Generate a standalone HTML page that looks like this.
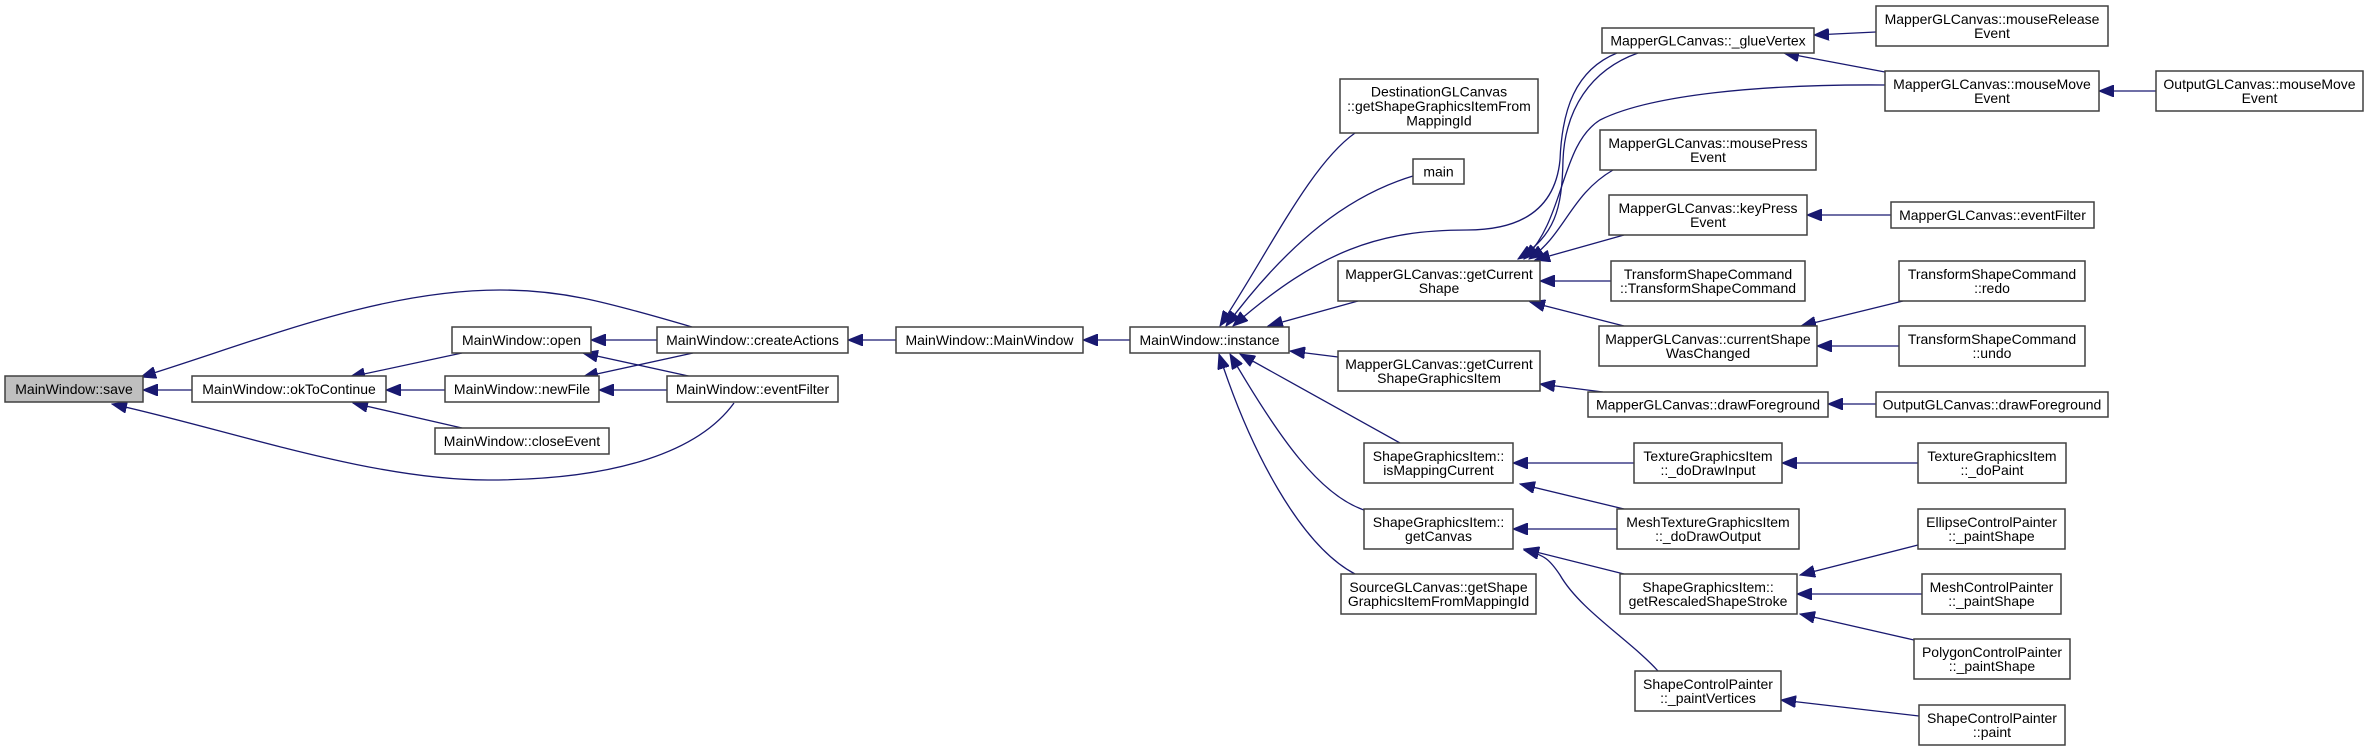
<!DOCTYPE html>
<html><head><meta charset="utf-8"><style>
html,body{margin:0;padding:0;background:#fff}
svg{display:block}
text{font-family:"Liberation Sans",Arial,sans-serif;font-size:14px;fill:#000;text-anchor:middle;dominant-baseline:central}
rect{fill:#fff;stroke:#404040;stroke-width:1.5}
path{fill:none;stroke:#191970;stroke-width:1.3}
</style></head><body>
<svg width="2368" height="751" viewBox="0 0 2368 751" xmlns="http://www.w3.org/2000/svg">
<defs>
<marker id="a" markerUnits="userSpaceOnUse" markerWidth="16" markerHeight="12" refX="15" refY="6" orient="auto">
<path d="M0,0 L15,6 L0,12 Z" style="fill:#191970;stroke:#191970;stroke-width:1"/>
</marker>
</defs>
<g marker-end="url(#a)">
<path d="M192,390 L143,390"/>
<path d="M692,327 C600,300 560,290 500,290 C380,290 260,340 141,377"/>
<path d="M734,403 C700,450 620,480 488,480 C370,480 230,430 112,404"/>
<path d="M462,353 L350,377"/>
<path d="M445,390 L386,390"/>
<path d="M462,428 L353,403"/>
<path d="M657,340 L591,340"/>
<path d="M693,377 L583,353"/>
<path d="M693,353 L583,377"/>
<path d="M667,390 L599,390"/>
<path d="M896,340 L848,340"/>
<path d="M1130,340 L1083,340"/>
<path d="M1355,133 C1310,165 1270,250 1220,326"/>
<path d="M1413,176 C1350,195 1290,240 1226,326"/>
<path d="M1617,53 C1575,70 1562,110 1560,160 C1555,210 1520,230 1467,230 C1380,230 1320,250 1233,326"/>
<path d="M1358,301 L1268,326"/>
<path d="M1338,357 L1290,351"/>
<path d="M1400,443 L1240,354"/>
<path d="M1364,510 C1320,495 1280,440 1230,354"/>
<path d="M1355,574 C1300,545 1250,450 1219,354"/>
<path d="M1638,53 C1590,70 1565,110 1563,160 C1562,210 1555,235 1518,259"/>
<path d="M1885,85 C1760,84 1650,95 1600,120 C1560,145 1565,220 1524,259"/>
<path d="M1613,170 C1570,195 1565,235 1529,259"/>
<path d="M1624,235 L1535,260"/>
<path d="M1611,281 L1540,281"/>
<path d="M1624,326 L1530,302"/>
<path d="M1876,32 L1814,35"/>
<path d="M1885,72 L1784,53"/>
<path d="M2156,91 L2099,91"/>
<path d="M1891,215 L1807,215"/>
<path d="M1903,301 L1801,326"/>
<path d="M1899,346 L1817,346"/>
<path d="M1603,392 L1540,384"/>
<path d="M1876,404 L1828,404"/>
<path d="M1634,463 L1513,463"/>
<path d="M1918,463 L1782,463"/>
<path d="M1624,509 L1520,484"/>
<path d="M1617,529 L1513,529"/>
<path d="M1624,574 L1524,549"/>
<path d="M1658,671 C1630,640 1580,610 1560,575 C1550,560 1545,555 1524,550"/>
<path d="M1918,545 L1800,575"/>
<path d="M1922,594 L1797,594"/>
<path d="M1914,640 L1800,614"/>
<path d="M1919,716 L1781,700"/>
</g>
<rect x="5" y="376" width="138" height="26" style="fill:#bfbfbf"/><text x="74" y="389">MainWindow::save</text>
<rect x="192" y="376" width="194" height="26"/><text x="289" y="389">MainWindow::okToContinue</text>
<rect x="452" y="327" width="139" height="26"/><text x="521.5" y="340">MainWindow::open</text>
<rect x="445" y="376" width="154" height="26"/><text x="522" y="389">MainWindow::newFile</text>
<rect x="435" y="428" width="174" height="26"/><text x="522" y="441">MainWindow::closeEvent</text>
<rect x="657" y="327" width="191" height="26"/><text x="752.5" y="340">MainWindow::createActions</text>
<rect x="667" y="376" width="171" height="26"/><text x="752.5" y="389">MainWindow::eventFilter</text>
<rect x="896" y="327" width="187" height="26"/><text x="989.5" y="340">MainWindow::MainWindow</text>
<rect x="1130" y="327" width="159" height="26"/><text x="1209.5" y="340">MainWindow::instance</text>
<rect x="1340" y="79" width="198" height="54"/><text x="1439" y="91.5">DestinationGLCanvas</text><text x="1439" y="106">::getShapeGraphicsItemFrom</text><text x="1439" y="120.5">MappingId</text>
<rect x="1413" y="159" width="51" height="25"/><text x="1438.5" y="171.5">main</text>
<rect x="1338" y="261" width="202" height="40"/><text x="1439" y="274">MapperGLCanvas::getCurrent</text><text x="1439" y="288">Shape</text>
<rect x="1338" y="351" width="202" height="40"/><text x="1439" y="364">MapperGLCanvas::getCurrent</text><text x="1439" y="378">ShapeGraphicsItem</text>
<rect x="1364" y="443" width="149" height="40"/><text x="1438.5" y="456">ShapeGraphicsItem::</text><text x="1438.5" y="470">isMappingCurrent</text>
<rect x="1364" y="509" width="149" height="40"/><text x="1438.5" y="522">ShapeGraphicsItem::</text><text x="1438.5" y="536">getCanvas</text>
<rect x="1341" y="574" width="195" height="40"/><text x="1438.5" y="587">SourceGLCanvas::getShape</text><text x="1438.5" y="601">GraphicsItemFromMappingId</text>
<rect x="1602" y="28" width="212" height="25"/><text x="1708" y="40.5">MapperGLCanvas::_glueVertex</text>
<rect x="1600" y="130" width="216" height="40"/><text x="1708" y="143">MapperGLCanvas::mousePress</text><text x="1708" y="157">Event</text>
<rect x="1609" y="195" width="198" height="40"/><text x="1708" y="208">MapperGLCanvas::keyPress</text><text x="1708" y="222">Event</text>
<rect x="1611" y="261" width="194" height="40"/><text x="1708" y="274">TransformShapeCommand</text><text x="1708" y="288">::TransformShapeCommand</text>
<rect x="1599" y="326" width="218" height="40"/><text x="1708" y="339">MapperGLCanvas::currentShape</text><text x="1708" y="353">WasChanged</text>
<rect x="1588" y="392" width="240" height="25"/><text x="1708" y="404.5">MapperGLCanvas::drawForeground</text>
<rect x="1634" y="443" width="148" height="40"/><text x="1708" y="456">TextureGraphicsItem</text><text x="1708" y="470">::_doDrawInput</text>
<rect x="1617" y="509" width="182" height="40"/><text x="1708" y="522">MeshTextureGraphicsItem</text><text x="1708" y="536">::_doDrawOutput</text>
<rect x="1620" y="574" width="177" height="40"/><text x="1708" y="587">ShapeGraphicsItem::</text><text x="1708" y="601">getRescaledShapeStroke</text>
<rect x="1635" y="671" width="146" height="40"/><text x="1708" y="684">ShapeControlPainter</text><text x="1708" y="698">::_paintVertices</text>
<rect x="1876" y="6" width="232" height="40"/><text x="1992" y="19">MapperGLCanvas::mouseRelease</text><text x="1992" y="33">Event</text>
<rect x="1885" y="71" width="214" height="40"/><text x="1992" y="84">MapperGLCanvas::mouseMove</text><text x="1992" y="98">Event</text>
<rect x="2156" y="71" width="207" height="40"/><text x="2259.5" y="84">OutputGLCanvas::mouseMove</text><text x="2259.5" y="98">Event</text>
<rect x="1891" y="202" width="203" height="26"/><text x="1992.5" y="215">MapperGLCanvas::eventFilter</text>
<rect x="1899" y="261" width="186" height="40"/><text x="1992" y="274">TransformShapeCommand</text><text x="1992" y="288">::redo</text>
<rect x="1899" y="326" width="186" height="40"/><text x="1992" y="339">TransformShapeCommand</text><text x="1992" y="353">::undo</text>
<rect x="1876" y="392" width="232" height="25"/><text x="1992" y="404.5">OutputGLCanvas::drawForeground</text>
<rect x="1918" y="443" width="148" height="40"/><text x="1992" y="456">TextureGraphicsItem</text><text x="1992" y="470">::_doPaint</text>
<rect x="1918" y="509" width="147" height="40"/><text x="1991.5" y="522">EllipseControlPainter</text><text x="1991.5" y="536">::_paintShape</text>
<rect x="1922" y="574" width="139" height="40"/><text x="1991.5" y="587">MeshControlPainter</text><text x="1991.5" y="601">::_paintShape</text>
<rect x="1914" y="639" width="156" height="40"/><text x="1992" y="652">PolygonControlPainter</text><text x="1992" y="666">::_paintShape</text>
<rect x="1919" y="705" width="146" height="40"/><text x="1992" y="718">ShapeControlPainter</text><text x="1992" y="732">::paint</text>
</svg>
</body></html>
